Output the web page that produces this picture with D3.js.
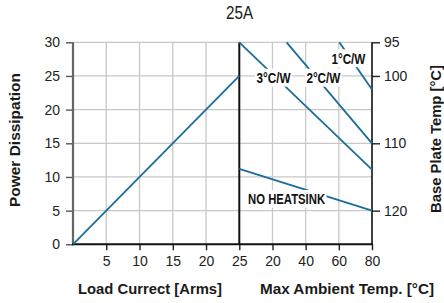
<!DOCTYPE html>
<html>
<head>
<meta charset="utf-8">
<script src="https://cdn.jsdelivr.net/npm/d3@7"></script>
<style>
  html, body { margin: 0; padding: 0; background: #fff; }
  svg { display: block; }
  text { font-family: 'Liberation Sans', Arial, sans-serif; }
</style>
</head>
<body>
<svg id="chart" width="444" height="303"></svg>
<script>
// ---- data ----
const chartTitle = "25A";
const loadCurrent = [0, 25];          // Arms
const powerDissipation = [0, 25];     // W
const currentTicks = [5, 10, 15, 20, 25];
const powerTicks = [0, 5, 10, 15, 20, 25, 30];

const ambientTickValues = [0, 20, 40, 60, 80];
const ambientTickLabels = ["25", "20", "40", "60", "80"];
const baseTempTicks = [95, 100, 110, 120];

const seriesNames = ["3°C/W", "2°C/W", "1°C/W", "NO HEATSINK"];
const seriesAmbient = [[0, 80], [28.5, 80], [60.3, 80], [0, 80]];   // °C
const seriesPower = [[30, 11.1], [30, 15], [30, 23], [11.2, 5]];     // W

// ---- layout ----
const svg = d3.select("#chart");
const lineColor = "#1a6e98";
const pL = 73, pM = 239.3, pR = 372, pT = 42.3, pB = 244.3;

const xLoad = d3.scaleLinear().domain([0, 25]).range([pL, pM]);
const xAmb = d3.scaleLinear().domain([0, 80]).range([pM, pR]);
const yP = d3.scaleLinear().domain([0, 30]).range([pB, pT]);
const yT = d3.scaleLinear().domain([125, 95]).range([pB, pT]);

// grid
const grid = svg.append("g").attr("stroke", "#c8c8c8").attr("stroke-width", 1.3);
powerTicks.filter(d => d > 0).forEach(p => {
  grid.append("line").attr("x1", pL).attr("x2", pR).attr("y1", yP(p)).attr("y2", yP(p));
});
currentTicks.filter(d => d < 25).forEach(c => {
  grid.append("line").attr("x1", xLoad(c)).attr("x2", xLoad(c)).attr("y1", pT).attr("y2", pB);
});
ambientTickValues.filter(d => d > 0 && d < 80).forEach(t => {
  grid.append("line").attr("x1", xAmb(t)).attr("x2", xAmb(t)).attr("y1", pT).attr("y2", pB);
});

// axes
function styleAxis(g, color) {
  g.select(".domain").remove();
  g.selectAll(".tick line").attr("stroke", color).attr("stroke-width", 1.4);
  g.selectAll(".tick text").attr("fill", "#222").attr("font-size", 14)
    .attr("font-family", "'Liberation Sans', Arial, sans-serif");
}
const yAxisL = svg.append("g").attr("transform", `translate(${pL},0)`)
  .call(d3.axisLeft(yP).tickValues(powerTicks).tickSize(7).tickPadding(6));
styleAxis(yAxisL, "#555");

const xAxisL = svg.append("g").attr("transform", `translate(0,${pB})`)
  .call(d3.axisBottom(xLoad).tickValues(currentTicks.filter(d => d < 25)).tickSize(6).tickPadding(6));
styleAxis(xAxisL, "#222");

const xAxisR = svg.append("g").attr("transform", `translate(0,${pB})`)
  .call(d3.axisBottom(xAmb).tickValues(ambientTickValues)
    .tickFormat((d, i) => ambientTickLabels[i]).tickSize(6).tickPadding(6));
styleAxis(xAxisR, "#222");

const yAxisR = svg.append("g").attr("transform", `translate(${pR},0)`)
  .call(d3.axisRight(yT).tickValues(baseTempTicks).tickSize(8).tickPadding(4));
styleAxis(yAxisR, "#222");

// axis lines
svg.append("line").attr("x1", pL).attr("x2", pL).attr("y1", pT).attr("y2", pB + 1)
  .attr("stroke", "#666").attr("stroke-width", 2.2);
svg.append("line").attr("x1", pL - 1).attr("x2", pR + 1).attr("y1", pB).attr("y2", pB)
  .attr("stroke", "#111").attr("stroke-width", 2);
svg.append("line").attr("x1", pM).attr("x2", pM).attr("y1", pT).attr("y2", pB)
  .attr("stroke", "#111").attr("stroke-width", 2);
svg.append("line").attr("x1", pR).attr("x2", pR).attr("y1", pT).attr("y2", pB)
  .attr("stroke", "#111").attr("stroke-width", 1.6);

// lines
const line = d3.line();
svg.append("path")
  .attr("d", line(loadCurrent.map((c, i) => [xLoad(c), yP(powerDissipation[i])])))
  .attr("fill", "none").attr("stroke", lineColor).attr("stroke-width", 1.8);

seriesNames.forEach((n, s) => {
  svg.append("path")
    .attr("d", line(seriesAmbient[s].map((t, i) => [xAmb(t), yP(seriesPower[s][i])])))
    .attr("fill", "none").attr("stroke", lineColor).attr("stroke-width", 1.8);
});

// labels with white boxes (center anchor in ambient/power coordinates)
const labelAnchors = [[20.6, 24.7], [50.7, 24.7], [65.8, 27.6], [28.5, 6.7]];
const labelWidths = [34, 34, 34, 77];
const labelSize = 14.5, capH = 10.4;
seriesNames.forEach((n, s) => {
  const cx = xAmb(labelAnchors[s][0]), cy = yP(labelAnchors[s][1]);
  const w = labelWidths[s];
  const g = svg.append("g");
  g.append("rect").attr("x", cx - w / 2 - 1.5).attr("y", cy - capH / 2 - 4)
    .attr("width", w + 3).attr("height", capH + 7.5).attr("fill", "#fff");
  g.append("text")
    .attr("x", cx - w / 2).attr("y", cy + capH / 2)
    .attr("textLength", w).attr("lengthAdjust", "spacingAndGlyphs")
    .attr("font-size", labelSize).attr("font-weight", "bold").attr("fill", "#111").text(n);
});

// titles
function fitText(x, y, len, size, weight, str, rot) {
  const t = svg.append("text").attr("text-anchor", "middle")
    .attr("font-size", size).attr("font-weight", weight).attr("fill", "#1a1a1a")
    .attr("textLength", len).attr("lengthAdjust", "spacingAndGlyphs").text(str);
  if (rot) t.attr("transform", `translate(${x},${y}) rotate(-90)`);
  else t.attr("x", x).attr("y", y);
  return t;
}
fitText(239.5, 19.3, 27, 17.5, "normal", chartTitle, false);
fitText(20, 140, 134, 15.5, "bold", "Power Dissipation", true);
fitText(441, 139, 148, 15.5, "bold", "Base Plate Temp [°C]", true);
fitText(150, 294.3, 144, 15.5, "bold", "Load Currect [Arms]", false);
fitText(347, 294.3, 174, 15.5, "bold", "Max Ambient Temp. [°C]", false);
</script>
</body>
</html>
